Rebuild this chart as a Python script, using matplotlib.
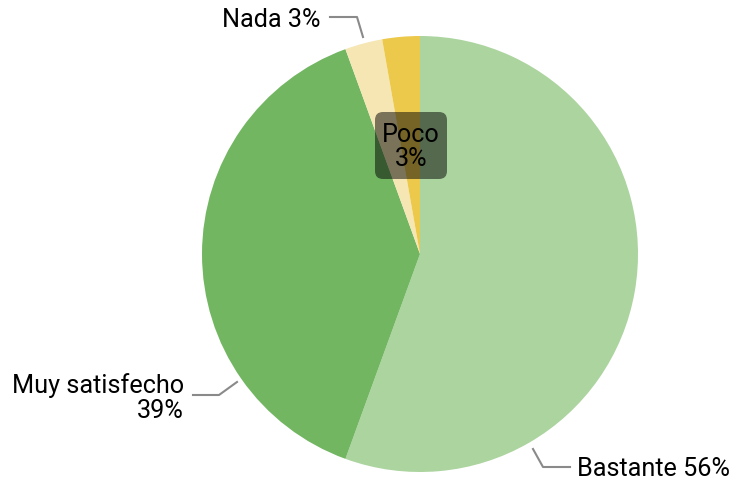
import matplotlib.pyplot as plt
from matplotlib.patches import FancyBboxPatch

categories = ["Bastante", "Muy satisfecho", "Nada", "Poco"]
values = [20, 14, 1, 1]
pct_labels = ["56%", "39%", "3%", "3%"]
colors = ["#acd49f", "#72b662", "#f5e6b3", "#ecc94b"]

plt.rcParams['font.family'] = ['Roboto', 'DejaVu Sans']

fig = plt.figure(figsize=(7.39, 4.85), dpi=100)
ax = fig.add_axes([0, 0, 1, 1])

H = 485
cx, cy, r = 420, H - 255, 218
ax.pie(values, colors=colors, startangle=90, counterclock=False,
       center=(cx, cy), radius=r, frame=True,
       wedgeprops=dict(linewidth=0))
ax.set_xlim(0, 739)
ax.set_ylim(0, 485)
ax.set_aspect('equal')
ax.axis('off')

lc = "#8a8a8a"
fs = 18.2
fw = 'normal'
# Nada
ax.plot([330, 357, 363], [H - 18, H - 18, H - 38], color=lc, lw=1.5)
ax.text(321, H - 20, f"{categories[2]} {pct_labels[2]}", ha='right', va='center', fontsize=fs,
        fontweight=fw, color='black')
# Muy satisfecho
ax.plot([193, 219, 237], [H - 396, H - 396, H - 383], color=lc, lw=1.5)
ax.text(184, H - 398, f"{categories[1]}\n{pct_labels[1]}", ha='right', va='center', fontsize=fs,
        fontweight=fw, color='black', multialignment='right', linespacing=1.05)
# Bastante
ax.plot([533, 543, 570], [H - 450, H - 468, H - 468], color=lc, lw=1.5)
ax.text(577, H - 469, f"{categories[0]} {pct_labels[0]}", ha='left', va='center', fontsize=fs,
        fontweight=fw, color='black')
# Poco (inside box)
box = FancyBboxPatch((375, H - 180), 72, 67, boxstyle="round,pad=0,rounding_size=8",
                     facecolor='black', alpha=0.5, edgecolor='none')
ax.add_patch(box)
ax.text(411, H - 147, f"{categories[3]}\n{pct_labels[3]}", ha='center', va='center', fontsize=fs,
        fontweight=fw, color='black', linespacing=0.95)

fig.savefig("out.png", dpi=100)
